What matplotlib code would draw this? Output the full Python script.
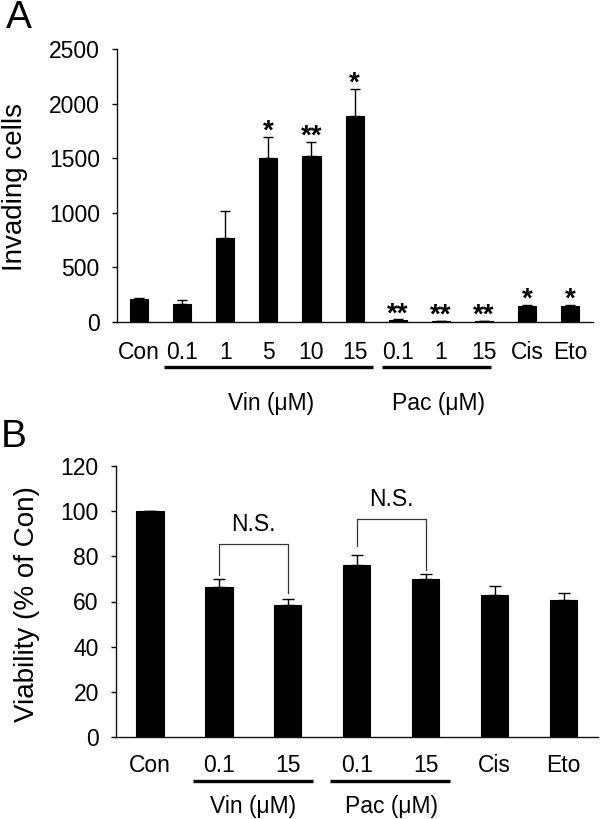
import matplotlib
matplotlib.use("Agg")
import matplotlib.pyplot as plt
import matplotlib.transforms as mtrans

plt.rcParams['font.family'] = ['Liberation Sans', 'DejaVu Sans']

# ---------------- Data ----------------
a_labels = ['Con', '0.1', '1', '5', '10', '15', '0.1', '1', '15', 'Cis', 'Eto']
a_means = [212, 165, 765, 1503, 1524, 1887, 22, 10, 10, 150, 148]
a_errs = [10, 38, 247, 195, 125, 247, 4, 2, 2, 10, 8]
a_stars = ['', '', '', '*', '**', '*', '**', '**', '**', '*', '*']
a_yticks = [0, 500, 1000, 1500, 2000, 2500]
a_groups = [('Vin (μM)', 1, 5), ('Pac (μM)', 6, 8)]

b_labels = ['Con', '0.1', '15', '0.1', '15', 'Cis', 'Eto']
b_means = [100, 66.2, 58.5, 76.3, 69.8, 62.7, 60.6]
b_errs = [0, 3.6, 2.7, 4.3, 2.2, 4.3, 3.0]
b_yticks = [0, 20, 40, 60, 80, 100, 120]
b_groups = [('Vin (μM)', 1, 2), ('Pac (μM)', 3, 4)]
# bracket: (left bar, right bar, top, left leg bottom, right leg bottom, label)
b_brackets = [(1, 2, 85.6, 71.9, 63.7, 'N.S.'), (3, 4, 96.7, 84.4, 74.0, 'N.S.')]

W, H = 600, 819
fig = plt.figure(figsize=(W / 100, H / 100), dpi=100)
FS = 16.5

def style_axes(ax):
    for s in ['top', 'right']:
        ax.spines[s].set_visible(False)
    for s in ['left', 'bottom']:
        ax.spines[s].set_linewidth(1.0)
        ax.spines[s].set_color('#111111')

# ---------------- Panel A ----------------
axA = fig.add_axes([117 / W, 1 - 322 / H, (593 - 117) / W, (322 - 49) / H])
xa = list(range(len(a_labels)))
axA.bar(xa, a_means, width=0.42, color='black', edgecolor='black', linewidth=0.8)
axA.errorbar(xa, a_means, yerr=[[0] * len(a_errs), a_errs], fmt='none',
             ecolor='black', elinewidth=1.0, capsize=3.5, capthick=1.0)
for x, m, e, s in zip(xa, a_means, a_errs, a_stars):
    if s:
        axA.annotate(s, (x, m + e), xytext=(0, -1.5), textcoords='offset points',
                     ha='center', va='baseline', fontsize=20, fontweight='bold')
axA.set_xlim(-0.51, 10.53)
axA.set_ylim(0, 2500)
axA.set_yticks(a_yticks)
axA.set_yticklabels([str(v) for v in a_yticks])
axA.set_xticks(xa)
axA.set_xticklabels(a_labels)
axA.tick_params(axis='y', direction='out', length=3.4, width=1.0, pad=9.0, labelsize=FS)
axA.tick_params(axis='x', length=0, pad=13.6, labelsize=FS)
style_axes(axA)
transA = mtrans.blended_transform_factory(axA.transData, axA.transAxes)
a_spans = [(-0.42, 0.43), (-0.36, 0.17)]
for (name, i0, i1), (dl, dr) in zip(a_groups, a_spans):
    axA.plot([i0 + dl, i1 + dr], [-0.165, -0.165], color='black', lw=2.4,
             transform=transA, clip_on=False, solid_capstyle='butt')
    axA.text((i0 + dl + i1 + dr) / 2 + 0.05, -0.30, name, transform=transA,
             ha='center', va='center', fontsize=FS)
fig.text(15 / W, 1 - 187 / H, 'Invading cells', rotation=90, ha='center',
         va='center', fontsize=20)
fig.text(6 / W, 1 - 28 / H, 'A', fontsize=28, ha='left', va='baseline')

# ---------------- Panel B ----------------
axB = fig.add_axes([116 / W, 1 - 737 / H, (598 - 116) / W, (737 - 466) / H])
xb = list(range(len(b_labels)))
axB.bar(xb, b_means, width=0.40, color='black', edgecolor='black', linewidth=0.8)
axB.errorbar(xb, b_means, yerr=[[0] * len(b_errs), b_errs], fmt='none',
             ecolor='black', elinewidth=1.0, capsize=4.5, capthick=1.0)
for i, j, top, lb, rb, lab in b_brackets:
    axB.plot([i, i, j, j], [lb, top, top, rb], color='#333333', lw=0.9)
    axB.text((i + j) / 2, top + 5.4, lab, ha='center', va='baseline', fontsize=FS)
axB.set_xlim(-0.49, 6.5)
axB.set_ylim(0, 120)
axB.set_yticks(b_yticks)
axB.set_yticklabels([str(v) for v in b_yticks])
axB.set_xticks(xb)
axB.set_xticklabels(b_labels)
axB.tick_params(axis='y', direction='out', length=3.4, width=1.0, pad=9.0, labelsize=FS)
axB.tick_params(axis='x', length=0, pad=12.4, labelsize=FS)
style_axes(axB)
transB = mtrans.blended_transform_factory(axB.transData, axB.transAxes)
for name, i0, i1 in b_groups:
    axB.plot([i0 - 0.38, i1 + 0.36], [-0.162, -0.162], color='black', lw=2.4,
             transform=transB, clip_on=False, solid_capstyle='butt')
    axB.text((i0 + i1) / 2, -0.258, name, transform=transB,
             ha='center', va='center', fontsize=FS)
fig.text(27 / W, 1 - 604 / H, 'Viability (% of Con)', rotation=90, ha='center',
         va='center', fontsize=20)
fig.text(1 / W, 1 - 447 / H, 'B', fontsize=28, ha='left', va='baseline')

fig.savefig('out.png', dpi=100)
